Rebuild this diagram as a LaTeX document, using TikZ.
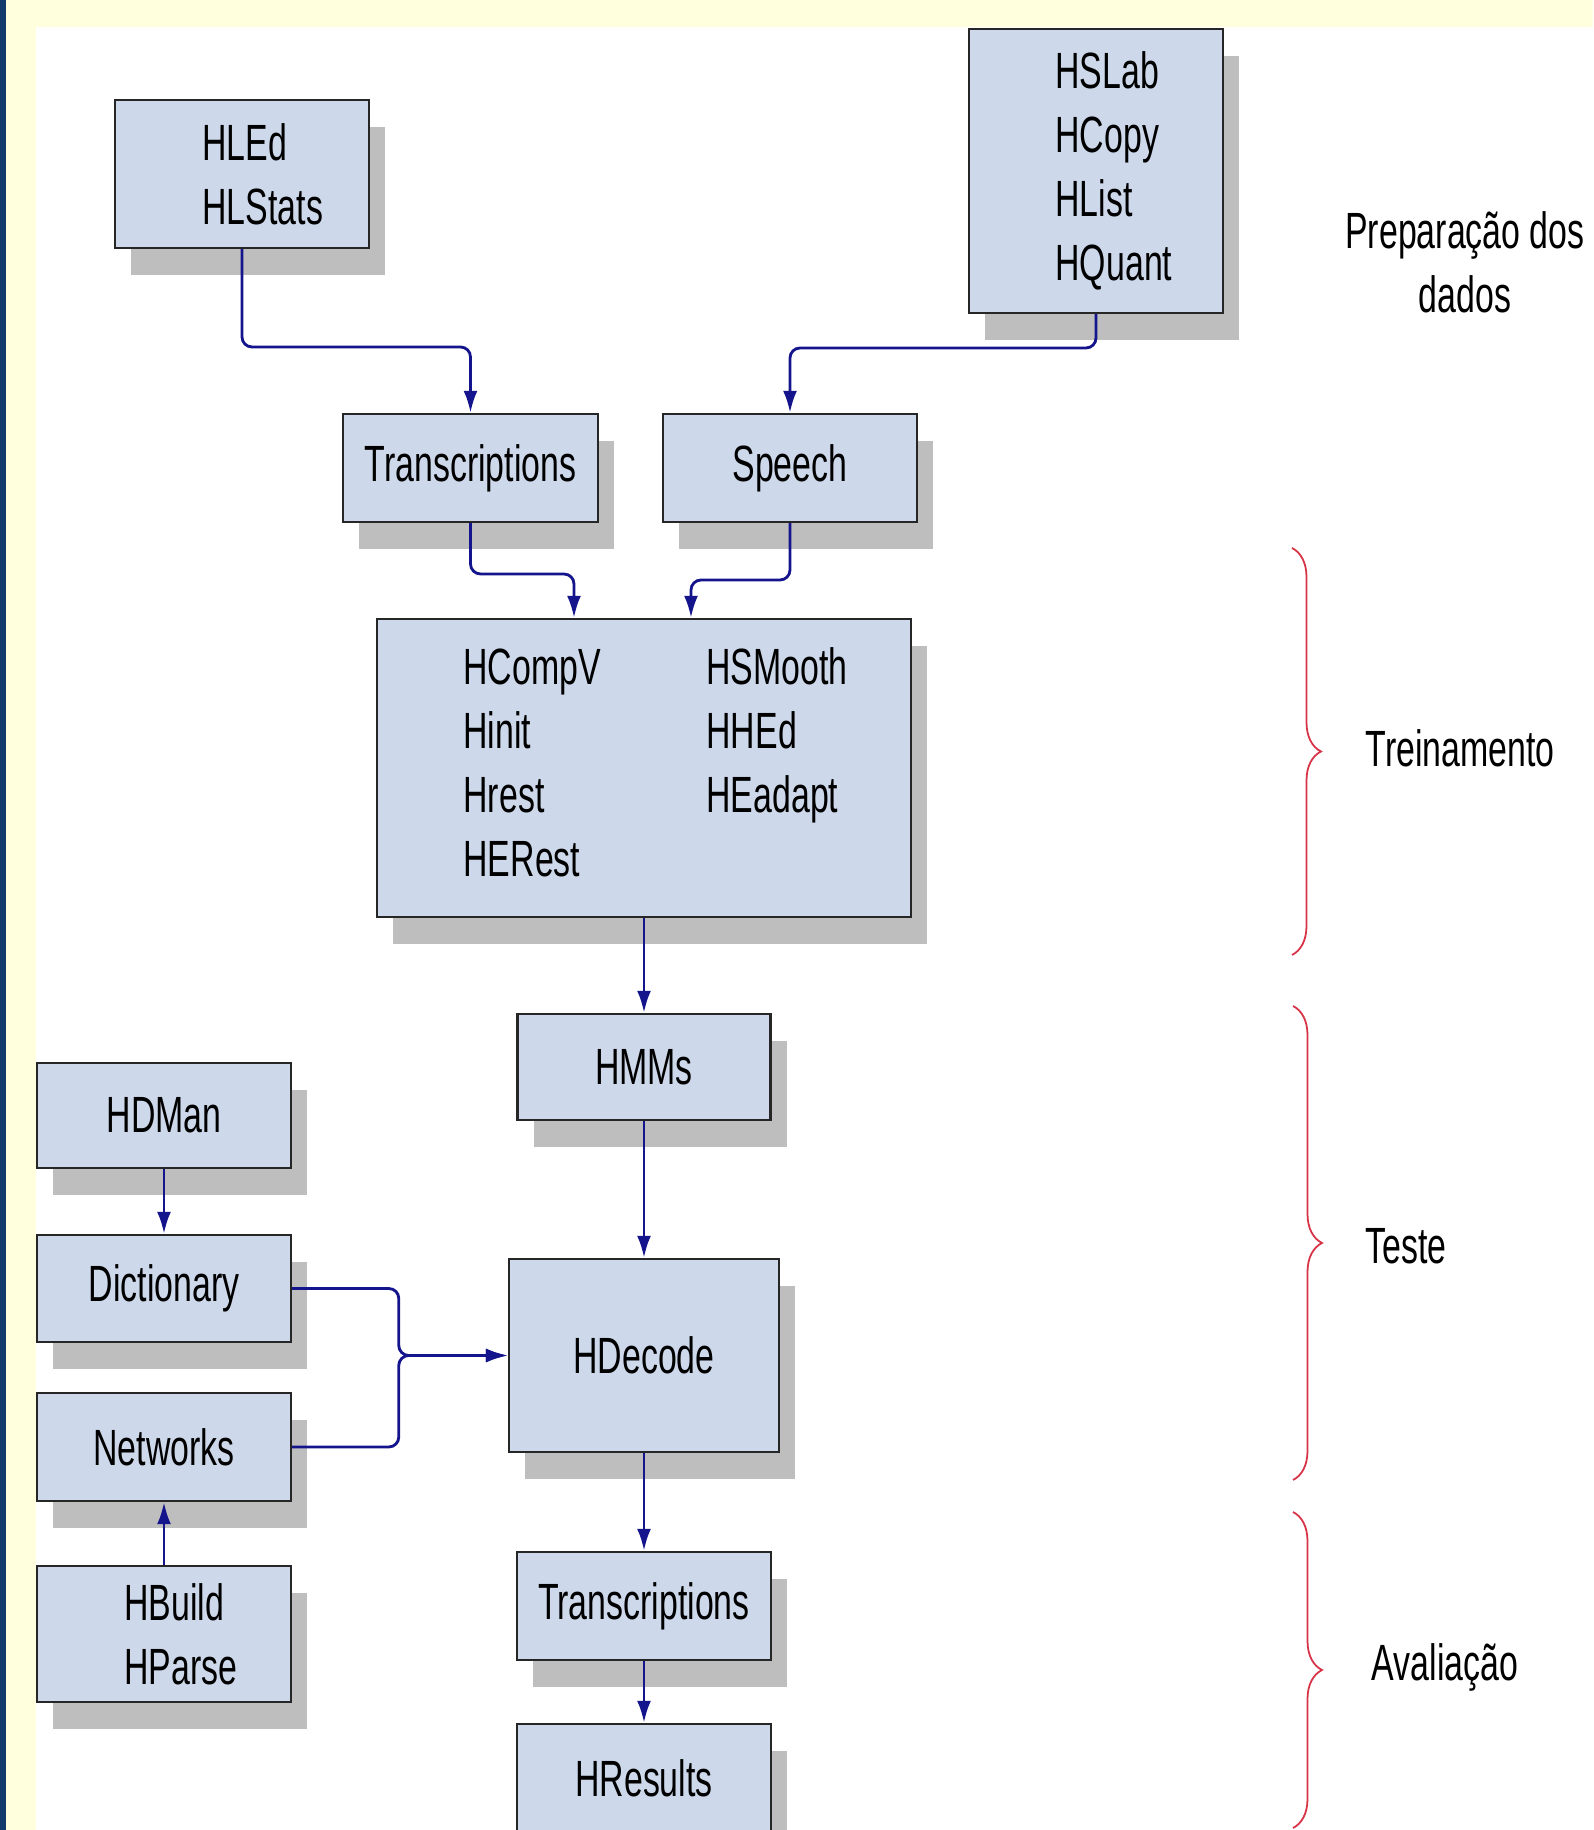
\documentclass[tikz,border=0pt]{standalone}
\usepackage{fontspec}
\setmainfont{Liberation Sans}[FakeStretch=0.665]
\usetikzlibrary{arrows.meta,shadows,decorations.pathreplacing}

\definecolor{boxblue}{RGB}{205,216,234}
\definecolor{shadowgrey}{RGB}{190,190,190}
\definecolor{linkblue}{RGB}{20,20,140}
\definecolor{bracered}{RGB}{215,50,70}
\definecolor{bgyellow}{RGB}{255,255,221}
\definecolor{stripblue}{RGB}{18,58,108}

\begin{document}
\begin{tikzpicture}[
        font=\fontsize{14.5}{18.2}\selectfont,
        box/.style={draw=black!85, line width=0.7pt, fill=boxblue,
            minimum width=2.54cm, minimum height=1.07cm, inner sep=0pt,
            drop shadow={shadow xshift=0.16cm, shadow yshift=-0.27cm,
                fill=shadowgrey, opacity=1}},
        boxtext/.style={anchor=west, align=left, inner sep=0pt},
        link/.style={draw=linkblue, line width=0.8pt, rounded corners=1mm,
            -{Latex[length=2.2mm,width=1.4mm]}},
        phase/.style={draw=bracered, line width=0.5pt, decorate,
            decoration={brace, amplitude=0.29cm}}
    ]
            \useasboundingbox (0,0) rectangle (15.93,18.30);

            % slide background
            \fill[bgyellow] (0,0) rectangle (15.93,18.30);
            \fill[white] (0.36,0) rectangle (15.93,18.03);
            \fill[stripblue] (0,0) rectangle (0.06,18.30);

            % data preparation
            \node[box, minimum height=1.48cm] (hled) at (2.42,16.56) {};
            \node[boxtext] (hledtext) at ([xshift=0.88cm]hled.west) {HLEd\\HLStats};
            \node[box, minimum height=2.84cm] (hslab) at (10.96,16.59) {};
            \node[boxtext] (hslabtext) at ([xshift=0.87cm]hslab.west) {HSLab\\HCopy\\HList\\HQuant};

            \node[box, minimum width=2.55cm, minimum height=1.08cm] (trans) at (4.705,13.62) {Transcriptions};
            \node[box, minimum height=1.08cm] (speech) at (7.90,13.62) {Speech};

            % training
            \node[box, minimum width=5.34cm, minimum height=2.98cm] (train) at (6.44,10.62) {};
            \node[boxtext] (traintext) at ([xshift=0.87cm]train.west) {%
                \begin{tabular}{@{}p{2.43cm}@{}l@{}}
                    HCompV & HSMooth\\
                    Hinit & HHEd\\
                    Hrest & HEadapt\\
                    HERest &
                \end{tabular}};

            % test
            \node[box, minimum width=2.53cm, minimum height=1.06cm] (hmms) at (6.44,7.63) {HMMs};
            \node[box, minimum height=1.05cm] (hdman) at (1.64,7.145) {HDMan};
            \node[box] (dict) at (1.64,5.415) {Dictionary};
            \node[box, minimum height=1.08cm] (networks) at (1.64,3.83) {Networks};
            \node[box, minimum height=1.36cm] (hbuild) at (1.64,1.96) {};
            \node[boxtext] (hbuildtext) at ([xshift=0.88cm]hbuild.west) {HBuild\\HParse};
            \node[box, minimum width=2.70cm, minimum height=1.93cm] (hdecode) at (6.44,4.745) {HDecode};

            % evaluation
            \node[box, minimum height=1.08cm] (transout) at (6.44,2.24) {Transcriptions};
            \node[box, minimum height=1.08cm] (hresults) at (6.44,0.52) {HResults};

            \coordinate (join) at ([xshift=-1.09cm]hdecode.west);

            \draw[link] (hled) -- ++(0,-1.73) -| (trans);
            \draw[link] (hslab) -- ++(0,-1.77) -| (speech);
            \draw[link] (trans) -- ++(0,-1.06) -| ([xshift=-0.70cm]train.north);
            \draw[link] (speech) -- ++(0,-1.12) -| ([xshift=0.47cm]train.north);
            \draw[link] (train) -- (hmms);
            \draw[link] (hmms) -- (hdecode);
            \draw[link] (hdman) -- (dict);
            \draw[link] (hbuild) -- (networks);
            \draw[link] (dict) -| (join) -- (hdecode);
            \draw[link] (networks) -| (join) -- (hdecode);
            \draw[link] (hdecode) -- (transout);
            \draw[link] (transout) -- (hresults);

            % phases
            \draw[phase] (12.92,12.82) -- (12.92,8.75);
            \draw[phase] (12.93,8.24) -- (12.93,3.50);
            \draw[phase] (12.93,3.18) -- (12.93,0.02);

            \node[align=center] (preplabel) at (14.65,15.675) {Preparação dos\\dados};
            \node[boxtext] (trainlabel) at (13.65,10.82) {Treinamento};
            \node[boxtext] (testlabel) at (13.65,5.84) {Teste};
            \node[boxtext] (evallabel) at (13.71,1.63) {Avaliação};
        \end{tikzpicture}
\end{document}
